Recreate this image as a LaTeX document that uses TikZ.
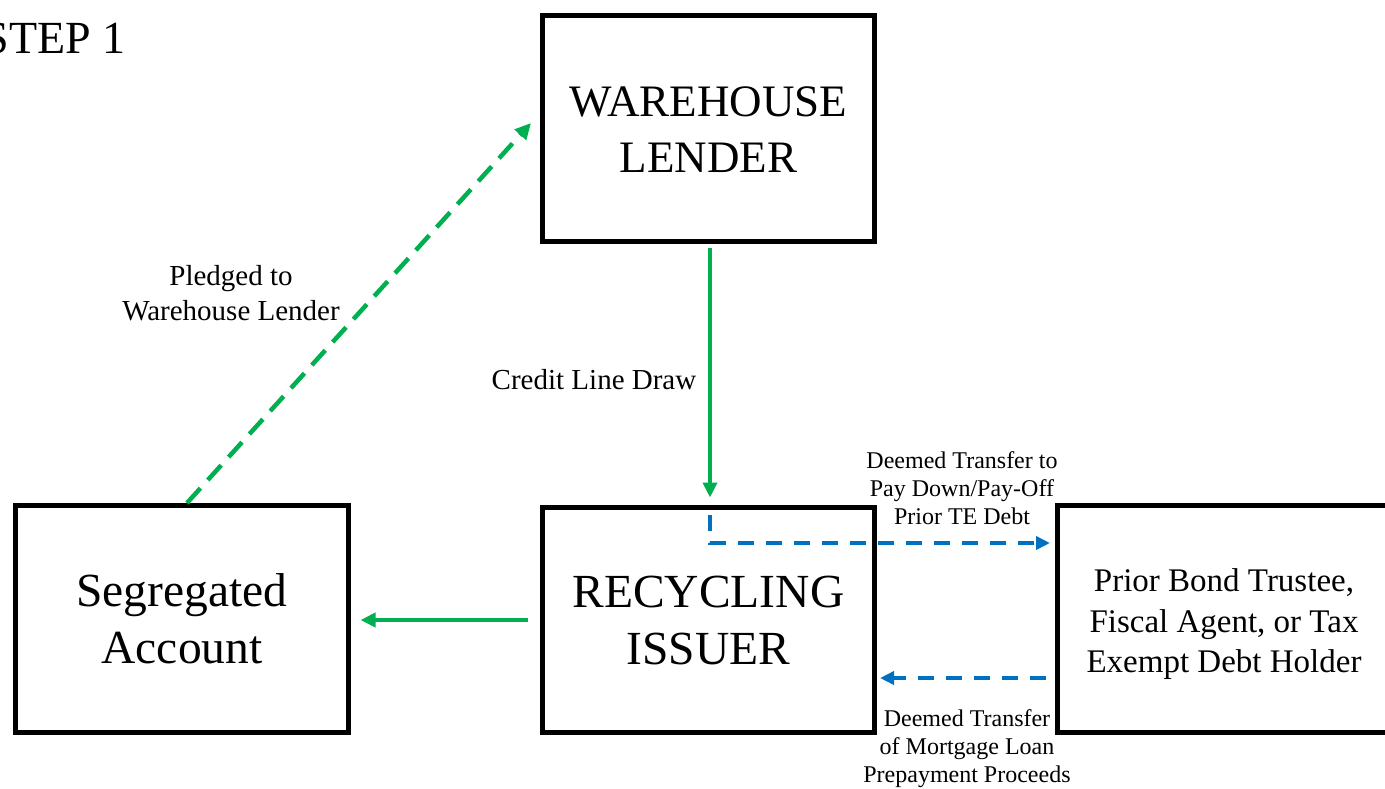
\documentclass[tikz,border=0pt]{standalone}
\usepackage{fontspec}
\setmainfont{Liberation Serif}
\usetikzlibrary{arrows.meta}
\definecolor{gline}{RGB}{0,176,80}
\definecolor{bline}{RGB}{0,112,192}
\newcommand{\lowered}[2]{\raisebox{#1}[\height][\depth]{\begin{tabular}{@{}c@{}}#2\end{tabular}}}
\begin{document}
\begin{tikzpicture}[x=1pt,y=-1pt,
  box/.style={draw=black,line width=5pt,minimum width=332pt,minimum height=226pt,inner sep=0pt,align=center},
  bigtxt/.style={font=\fontsize{45}{56}\selectfont},
  bigtxtb/.style={font=\fontsize{47.5}{57}\selectfont},
  midtxt/.style={font=\fontsize{33}{40.5}\selectfont},
  lbl/.style={font=\fontsize{29}{35}\selectfont,align=center,inner sep=0pt},
  slbl/.style={font=\fontsize{24}{28}\selectfont,align=center,inner sep=0pt},
  gsolid/.style={draw=gline,line width=4pt,-{Triangle[length=15pt,width=14pt]}},
  gdash/.style={draw=gline,line width=4.5pt,dash pattern=on 20pt off 11pt,-{Triangle[length=16pt,width=15pt]}},
  bdash/.style={draw=bline,line width=3.5pt,dash pattern=on 16pt off 12pt,-{Triangle[length=14pt,width=13pt]}}]
\useasboundingbox (0,0) rectangle (1385,788);
\node[box,bigtxt] (wl) at (708.5,128) {\lowered{-5pt}{WAREHOUSE\\LENDER}};
\node[box,bigtxtb,minimum height=227pt,minimum width=333pt] (seg) at (182,619) {Segregated\\Account};
\node[box,bigtxtb,minimum height=225pt] (ri) at (708.5,620) {RECYCLING\\ISSUER};
\node[box,midtxt,minimum height=227pt,minimum width=333pt] (pb) at (1224,619) {\lowered{-5pt}{Prior Bond Trustee,\\Fiscal Agent, or Tax\\Exempt Debt Holder}};
\node[anchor=east,inner sep=0pt,font=\fontsize{46}{50}\selectfont] (step) at (126,38) {STEP 1};

\draw[gsolid,shorten <=4pt,shorten >=7.5pt] ([xshift=1.5pt]wl.south) -- ([xshift=1.5pt]ri.north);
\draw[gdash] ([xshift=5pt]seg.north) -- ([xshift=-9pt,yshift=5pt]wl.west);
\draw[gsolid,shorten <=12.5pt,shorten >=9.5pt] (ri.west) -- ([yshift=-1pt]seg.east);
\draw[bdash,shorten >=5pt] ([xshift=1.5pt,yshift=-10pt]ri.north) |- ([yshift=76pt]pb.west);
\draw[bdash,shorten <=9.5pt,shorten >=3pt] ([yshift=-59pt]pb.west) -- ([yshift=-58pt]ri.east);

\node[lbl] (l1) at (231,293) {Pledged to\\Warehouse Lender};
\node[lbl] (l2) at (594,380) {Credit Line Draw};
\node[slbl] (l3) at (962,488) {Deemed Transfer to\\Pay Down/Pay-Off\\Prior TE Debt};
\node[slbl] (l4) at (967,749) {Deemed Transfer\\of Mortgage Loan\\Prepayment Proceeds};
\end{tikzpicture}
\end{document}
